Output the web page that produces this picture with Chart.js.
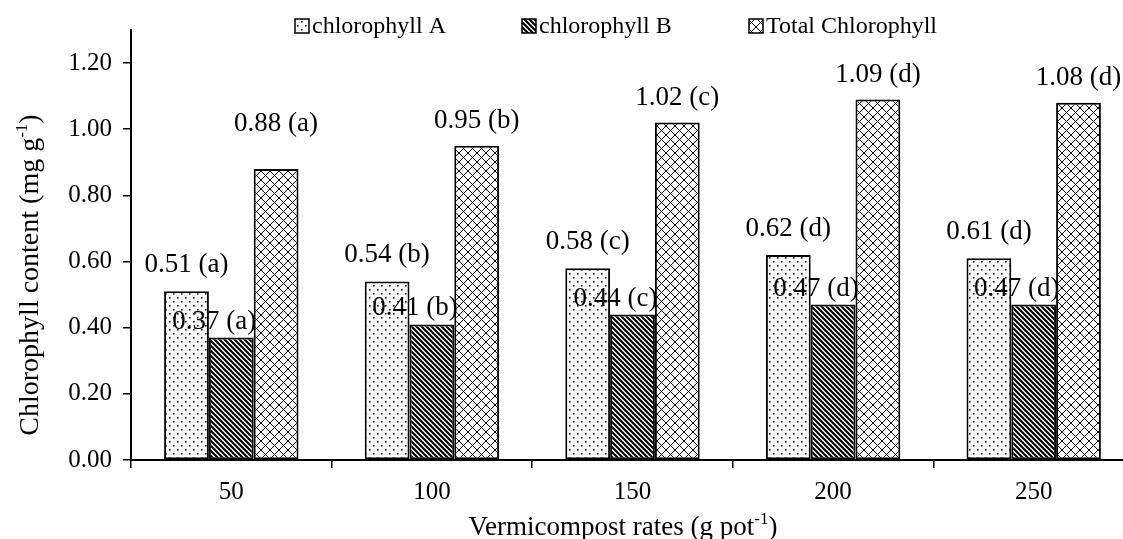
<!DOCTYPE html>
<html>
<head>
<meta charset="utf-8">
<script src="https://cdn.jsdelivr.net/npm/chart.js"></script>
<style>
  html, body { margin: 0; padding: 0; background: #fff; overflow: hidden; }
  #wrap { width: 1134px; height: 539px; position: relative; }
</style>
</head>
<body>
<div id="wrap"><canvas id="chlorophyllChart"></canvas></div>
<script>
const rates = ["50", "100", "150", "200", "250"];
const chlA = [0.51, 0.54, 0.58, 0.62, 0.61];
const chlB = [0.37, 0.41, 0.44, 0.47, 0.47];
const chlTotal = [0.88, 0.95, 1.02, 1.09, 1.08];
const lettersA = ["a", "b", "c", "d", "d"];
const lettersB = ["a", "b", "c", "d", "d"];
const lettersTotal = ["a", "b", "c", "d", "d"];
const seriesNames = ["chlorophyll A", "chlorophyll B", "Total Chlorophyll"];
const xTitle = ["Vermicompost rates (g pot", "-1", ")"];
const yTitle = ["Chlorophyll content (mg g", "-1", ")"];

const serif = "'Liberation Serif', 'Times New Roman', serif";

// pattern fills
function makePattern(size, draw) {
    const c = document.createElement("canvas");
    c.width = size;
    c.height = size;
    const g = c.getContext("2d");
    g.fillStyle = "#fff";
    g.fillRect(0, 0, size, size);
    draw(g, size);
    return c.getContext("2d").createPattern(c, "repeat");
}

const dotsFill = makePattern(8, function (g) {
    g.fillStyle = "#000";
    g.fillRect(1, 1, 1.6, 1.6);
    g.fillRect(5, 5, 1.6, 1.6);
});

const stripeFill = makePattern(5, function (g, s) {
    g.strokeStyle = "#000";
    g.lineWidth = 2.2;
    g.beginPath();
    g.moveTo(-s, -s); g.lineTo(2 * s, 2 * s);
    g.moveTo(-s, 0); g.lineTo(s, 2 * s);
    g.moveTo(0, -s); g.lineTo(2 * s, s);
    g.stroke();
});

const crossFill = makePattern(9, function (g, s) {
    g.strokeStyle = "#000";
    g.lineWidth = 1;
    g.beginPath();
    g.moveTo(0, 0); g.lineTo(s, s);
    g.moveTo(0, s); g.lineTo(s, 0);
    g.stroke();
});

const fills = [dotsFill, stripeFill, crossFill];

// where each dataset's value label sits relative to its bar top
const labelShift = [
    { dx: 0, lift: 26 },
    { dx: -17, lift: 16 },
    { dx: 0, lift: 25 },
];
const labelNudge = { "2-0": -20 }; // 0.88 (a) sits higher in the original

const valueLabels = {
    id: "valueLabels",
    afterDatasetsDraw(chart) {
        const ctx = chart.ctx;
        ctx.save();
        ctx.font = "27px " + serif;
        ctx.fillStyle = "#000";
        ctx.textAlign = "center";
        ctx.textBaseline = "middle";
        chart.data.datasets.forEach((ds, di) => {
            const meta = chart.getDatasetMeta(di);
            meta.data.forEach((bar, i) => {
                const shift = labelShift[di];
                const extra = labelNudge[di + "-" + i] || 0;
                const txt = ds.data[i].toFixed(2) + " (" + ds.letters[i] + ")";
                ctx.fillText(txt, bar.x + shift.dx, bar.y - shift.lift + extra);
            });
        });
        ctx.restore();
    }
};

const patternLegend = {
    id: "patternLegend",
    afterDraw(chart) {
        const ctx = chart.ctx;
        const starts = [295, 522, 749];
        ctx.save();
        ctx.font = "24px " + serif;
        ctx.textBaseline = "alphabetic";
        ctx.textAlign = "left";
        chart.data.datasets.forEach((ds, di) => {
            const x = starts[di];
            ctx.fillStyle = ds.backgroundColor;
            ctx.fillRect(x, 19, 14, 14);
            ctx.strokeStyle = "#000";
            ctx.lineWidth = 1.5;
            ctx.strokeRect(x, 19, 14, 14);
            ctx.fillStyle = "#000";
            ctx.fillText(ds.label, x + 17, 33);
        });
        ctx.restore();
    }
};

// axis titles with a real superscript
function drawSupTitle(ctx, parts, cx, cy, size, angle) {
    ctx.save();
    ctx.translate(cx, cy);
    ctx.rotate(angle);
    ctx.fillStyle = "#000";
    ctx.textBaseline = "alphabetic";
    ctx.textAlign = "left";
    const big = size + "px " + serif;
    const small = Math.round(size * 0.62) + "px " + serif;
    ctx.font = big;
    const w0 = ctx.measureText(parts[0]).width;
    const w2 = ctx.measureText(parts[2]).width;
    ctx.font = small;
    const w1 = ctx.measureText(parts[1]).width;
    let x = -(w0 + w1 + w2) / 2;
    const base = size * 0.33;
    ctx.font = big;
    ctx.fillText(parts[0], x, base);
    x += w0;
    ctx.font = small;
    ctx.fillText(parts[1], x, base - size * 0.4);
    x += w1;
    ctx.font = big;
    ctx.fillText(parts[2], x, base);
    ctx.restore();
}

const axisTitles = {
    id: "axisTitles",
    afterDraw(chart) {
        drawSupTitle(chart.ctx, xTitle, 623, 526, 27, 0);
        drawSupTitle(chart.ctx, yTitle, 29, 275, 28, -Math.PI / 2);
    }
};

const ctx = document.getElementById("chlorophyllChart").getContext("2d");
const chlorophyllChart = new Chart(ctx, {
    type: "bar",
    data: {
        labels: rates,
        datasets: [
            { label: seriesNames[0], data: chlA, letters: lettersA },
            { label: seriesNames[1], data: chlB, letters: lettersB },
            { label: seriesNames[2], data: chlTotal, letters: lettersTotal },
        ].map((ds, i) => Object.assign(ds, {
            backgroundColor: fills[i],
            borderColor: "#000",
            borderWidth: 2,
            borderSkipped: false,
            categoryPercentage: 0.67,
            barPercentage: 1.0,
        })),
    },
    options: {
        responsive: true,
        maintainAspectRatio: false,
        animation: false,
        layout: { padding: { top: 30, left: 0, right: 0, bottom: 0 } },
        plugins: {
            legend: { display: false },
            tooltip: { enabled: false },
        },
        scales: {
            x: {
                afterFit: function (scale) { scale.height = 79; },
                grid: {
                    offset: true,
                    drawOnChartArea: false,
                    drawTicks: true,
                    tickLength: 8,
                    color: "#000",
                    lineWidth: 1.5,
                },
                border: { color: "#000", width: 2 },
                ticks: {
                    color: "#000",
                    padding: 9,
                    font: { family: serif, size: 25 },
                },
            },
            y: {
                min: 0,
                max: 1.3,
                afterFit: function (scale) { scale.width = 131; },
                afterBuildTicks: function (scale) {
                    scale.ticks = scale.ticks.filter(t => t.value <= 1.2001);
                },
                grid: {
                    drawOnChartArea: false,
                    drawTicks: true,
                    tickLength: 8,
                    color: "#000",
                    lineWidth: 1.5,
                },
                border: { color: "#000", width: 2 },
                ticks: {
                    stepSize: 0.2,
                    color: "#000",
                    padding: 11,
                    font: { family: serif, size: 25 },
                    callback: function (value) {
                        return Number(value).toFixed(2);
                    },
                },
            },
        },
    },
    plugins: [valueLabels, patternLegend, axisTitles],
});
</script>
</body>
</html>
